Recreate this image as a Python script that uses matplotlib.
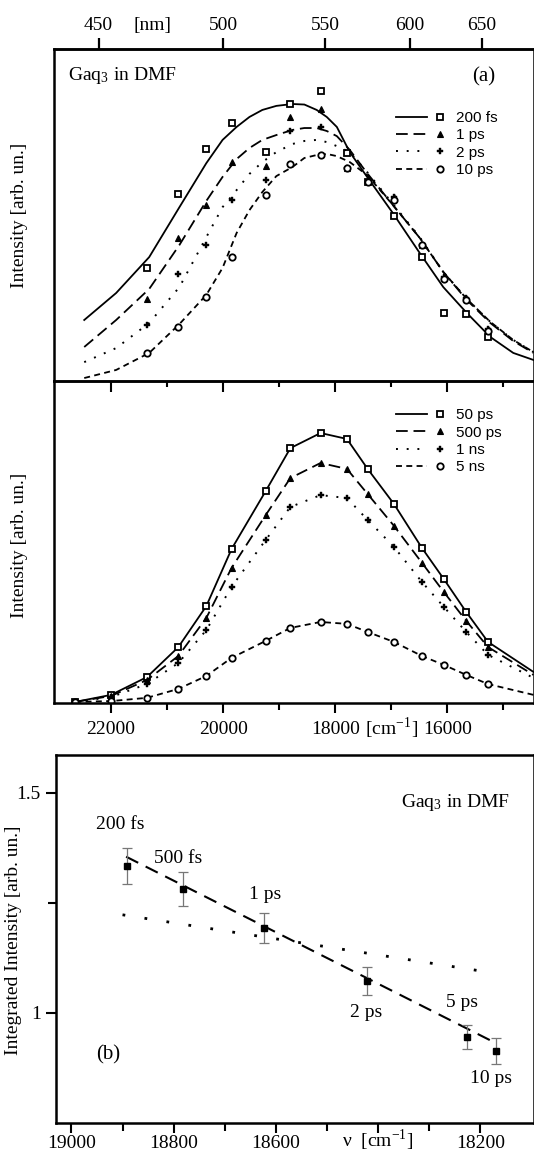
import numpy as np
import matplotlib
matplotlib.use('Agg')
import matplotlib.pyplot as plt
from matplotlib.legend_handler import HandlerBase
from matplotlib.lines import Line2D
from matplotlib.ticker import NullFormatter

plt.rcParams['font.family'] = 'Liberation Serif'
plt.rcParams['mathtext.fontset'] = 'stix'

# ---- data ----
# sample grid of the spectra [cm-1]
spec_nu = [22640, 22000, 21360, 20800, 20300, 19850, 19240, 18800,
           18260, 17790, 17420, 16950, 16450, 16060, 15660, 15270]

# (a) early times, measured points (on spec_nu[2:])
a_200fs = [0.419, 0.693, 0.859, 0.956, 0.848, 1.026, 1.074, 0.844, 0.737, 0.611, 0.459, 0.252, 0.248, 0.163]
a_1ps = [0.304, 0.530, 0.652, 0.811, 0.796, 0.978, 1.007, 0.789, 0.744, 0.681, 0.504, 0.385, 0.307, 0.193]
a_2ps = [0.207, 0.396, 0.504, 0.670, 0.744, 0.926, 0.941, 0.789, 0.737, 0.681, 0.504, 0.385, 0.307, 0.193]
a_10ps = [0.104, 0.200, 0.311, 0.459, 0.689, 0.804, 0.837, 0.789, 0.737, 0.670, 0.504, 0.378, 0.300, 0.185]

# (a) fitted curves
fit_nu = [22480, 21910, 21320, 20780, 20300, 20010, 19760, 19530, 19300, 19050, 18760, 18550,
          18330, 18150, 17970, 17740, 17430, 16970, 16490, 16070, 15650, 15230, 14820, 14460]
fit_200fs = [0.226, 0.326, 0.459, 0.644, 0.807, 0.893, 0.941, 0.978, 1.004, 1.019, 1.026, 1.024,
             1.004, 0.978, 0.941, 0.848, 0.756, 0.622, 0.474, 0.348, 0.252, 0.163, 0.104, 0.078]
fit_1ps = [0.126, 0.226, 0.341, 0.504, 0.667, 0.756, 0.822, 0.863, 0.893, 0.911, 0.930, 0.937,
           0.937, 0.926, 0.907, 0.856, 0.770, 0.652, 0.530, 0.404, 0.300, 0.215, 0.148, 0.104]
fit_2ps = [0.070, 0.122, 0.215, 0.348, 0.533, 0.644, 0.707, 0.767, 0.811, 0.848, 0.878, 0.889,
           0.893, 0.885, 0.870, 0.848, 0.774, 0.656, 0.533, 0.404, 0.304, 0.219, 0.152, 0.107]
fit_10ps = [0.011, 0.041, 0.104, 0.211, 0.319, 0.419, 0.548, 0.633, 0.700, 0.759, 0.793, 0.826,
            0.837, 0.841, 0.833, 0.811, 0.763, 0.652, 0.530, 0.404, 0.304, 0.219, 0.152, 0.107]

# later times (on spec_nu), plus where the curves leave the right edge
m_50ps = [0.004, 0.030, 0.096, 0.207, 0.359, 0.570, 0.785, 0.944, 1.000, 0.978, 0.867, 0.737, 0.574, 0.459, 0.337, 0.226]
m_500ps = [0.004, 0.026, 0.085, 0.174, 0.315, 0.500, 0.696, 0.833, 0.889, 0.867, 0.774, 0.656, 0.519, 0.411, 0.304, 0.207]
m_1ns = [0.004, 0.022, 0.070, 0.148, 0.270, 0.430, 0.604, 0.726, 0.770, 0.759, 0.678, 0.578, 0.448, 0.356, 0.263, 0.178]
m_5ns = [0.004, 0.007, 0.019, 0.052, 0.100, 0.167, 0.230, 0.278, 0.300, 0.293, 0.263, 0.226, 0.174, 0.141, 0.104, 0.070]
edge_nu = 14460
m_edge = [0.115, 0.104, 0.093, 0.030]

# (b) integrated intensity
b_labels = ['200 fs', '500 fs', '1 ps', '2 ps', '5 ps', '10 ps']
b_nu = [18891, 18781, 18623, 18422, 18227, 18169]
b_int = [1.334, 1.282, 1.193, 1.073, 0.945, 0.914]
b_err = [0.040, 0.039, 0.034, 0.032, 0.027, 0.029]
b_fit_nu = [18893, 18167]
b_fit_int = [1.355, 0.930]
b_dot_nu = [18900, 18175]
b_dot_int = [1.223, 1.091]

nm_ticks = [450, 500, 550, 600, 650]

# ---- styles ----
styles = [
  dict(linestyle='-', lw=1.3),
  dict(linestyle=(0, (6.5, 3.2)), lw=1.3),
  dict(linestyle=(0, (1.0, 4.5)), lw=1.4),
  dict(linestyle=(0, (3.3, 2.4)), lw=1.3),
]
marks = [
  dict(marker='s', ms=4.2, mfc='white', mec='k', mew=1.3),
  dict(marker='^', ms=4.0, mfc='k', mec='k', mew=0.8),
  dict(marker='P', ms=4.2, mfc='k', mec='k', mew=0.3),
  dict(marker='o', ms=4.6, mfc='white', mec='k', mew=1.3),
]

class LineThenMarker(HandlerBase):
  def create_artists(self, legend, orig, xdescent, ydescent, width, height, fontsize, trans):
    y = height / 2 - ydescent
    x0 = -xdescent
    line = Line2D([x0, x0 + 0.64 * width], [y, y])
    line.update_from(orig)
    line.set_marker('None')
    mark = Line2D([x0 + width - 2.5], [y])
    mark.update_from(orig)
    mark.set_linestyle('None')
    line.set_transform(trans)
    mark.set_transform(trans)
    return [line, mark]

def spec_legend(ax, names, top):
  handles = [Line2D([], [], color='k', **styles[i], **marks[i]) for i in range(4)]
  ax.legend(handles, names, loc='upper left', bbox_to_anchor=(0.712, top),
            frameon=False, borderpad=0, borderaxespad=0, handlelength=3.15,
            handletextpad=0.8, labelspacing=0.22,
            prop={'family': 'Liberation Sans', 'size': 11},
            handler_map={Line2D: LineThenMarker()})

fig = plt.figure(figsize=(5.34, 11.56), dpi=100)
xlim = (23020, 14450)
spine_w = 1.8

# ---- panel (a) ----
ax1 = fig.add_axes([0.1011, 0.6704, 0.8989, 0.2872])
ax2 = fig.add_axes([0.1011, 0.3919, 0.8989, 0.2785])
ax2.patch.set_visible(False)

nu_a = spec_nu[2:]
for i, (pts, fit) in enumerate(zip([a_200fs, a_1ps, a_2ps, a_10ps],
                                   [fit_200fs, fit_1ps, fit_2ps, fit_10ps])):
  ax1.plot(fit_nu, fit, color='k', **styles[i])
  ax1.plot(nu_a, pts, color='k', linestyle='none', **marks[i])
ax1.set_xlim(*xlim)
ax1.set_ylim(0, 332 / 270)
ax1.set_yticks([])
# top: wavelength ticks
sec = ax1.secondary_xaxis('top', functions=(lambda v: 1e7 / v, lambda l: 1e7 / l))
sec.set_xticks(nm_ticks)
sec.set_xticklabels([str(n) for n in nm_ticks], fontsize=14)
sec.tick_params(direction='out', length=8, width=1.6, pad=3)
sec.spines['top'].set_linewidth(spine_w)
# bottom of (a): ticks pointing down into the lower spectra panel
ax1.xaxis.set_ticks([22000, 20000, 18000, 16000])
ax1.xaxis.set_ticks([21000, 19000, 17000, 15000], minor=True)
ax1.tick_params(axis='x', which='both', direction='out', width=1.5, top=False,
                labeltop=False, labelbottom=False)
ax1.tick_params(axis='x', which='major', length=8)
ax1.tick_params(axis='x', which='minor', length=4)
ax1.text(21270, 1.072, '[nm]', transform=ax1.get_xaxis_transform(), ha='center', va='center', fontsize=14)
ax1.text(0.029, 0.919, 'Gaq$_{\\mathregular{3}}$ in DMF', transform=ax1.transAxes, ha='left', va='center', fontsize=14)
ax1.text(0.896, 0.916, '(a)', transform=ax1.transAxes, ha='center', va='center', fontsize=15)
spec_legend(ax1, ['200 fs', '1 ps', '2 ps', '10 ps'], 0.813)
for s in ax1.spines.values():
  s.set_linewidth(spine_w)

# ---- later-time spectra ----
for i, vals in enumerate([m_50ps, m_500ps, m_1ns, m_5ns]):
  ax2.plot(spec_nu + [edge_nu], vals + [m_edge[i]], color='k', **styles[i])
  ax2.plot(spec_nu, vals, color='k', linestyle='none', **marks[i])
ax2.set_xlim(*xlim)
ax2.set_ylim(0, 322 / 270)
ax2.set_yticks([])
ax2.set_xticks([22000, 20000, 18000, 16000])
ax2.set_xticks([21000, 19000, 17000, 15000], minor=True)
ax2.set_xticklabels(['22000', '20000', '18000', '16000'], fontsize=14)
ax2.tick_params(axis='x', which='major', direction='out', length=7, width=1.5, pad=6)
ax2.tick_params(axis='x', which='minor', direction='out', length=5, width=1.5)
ax2.text(17000, -0.078, '[cm$^{\\mathregular{-1}}$]', transform=ax2.get_xaxis_transform(),
         ha='center', va='center', fontsize=14)
spec_legend(ax2, ['50 ps', '500 ps', '1 ns', '5 ns'], 0.915)
for s in ax2.spines.values():
  s.set_linewidth(spine_w)

fig.text(0.037, 1 - 215 / 1156, 'Intensity [arb. un.]', rotation=90, ha='center', va='center', fontsize=14)
fig.text(0.037, 1 - 545 / 1156, 'Intensity [arb. un.]', rotation=90, ha='center', va='center', fontsize=14)

# ---- panel (b) ----
ax3 = fig.add_axes([0.105, 0.0285, 0.895, 0.3184])
ax3.plot(b_fit_nu, b_fit_int, color='k', lw=1.5, linestyle=(0, (6.5, 4.0)))
ax3.plot(b_dot_nu, b_dot_int, color='k', lw=2.0, linestyle=(0, (1.0, 7.0)))
ax3.errorbar(b_nu, b_int, yerr=b_err, fmt='s', ms=5, mfc='k', mec='k',
             ecolor='#777777', elinewidth=0.9, capsize=3.5, capthick=0.9)
label_pos = [(18904, 1.427), (18791, 1.352), (18621, 1.270),
             (18424, 1.000), (18235, 1.023), (18179, 0.852)]
for lab, (x, y) in zip(b_labels, label_pos):
  ax3.text(x, y, lab, ha='center', va='center', fontsize=14)
ax3.text(18928, 0.905, '(b)', ha='center', va='center', fontsize=15)
ax3.text(18249, 1.477, 'Gaq$_{\\mathregular{3}}$ in DMF', ha='center', va='center', fontsize=14)
ax3.set_xlim(19030, 18095)
ax3.set_ylim(0.75, 1.586)
ax3.set_xticks([19000, 18800, 18600, 18400, 18200])
ax3.set_xticks([18900, 18700, 18500, 18300], minor=True)
ax3.set_xticklabels(['19000', '18800', '18600', '', '18200'], fontsize=14)
ax3.text(18400, -0.046, '\u03bd  [cm$^{\\mathregular{-1}}$]', transform=ax3.get_xaxis_transform(),
         ha='center', va='center', fontsize=14)
ax3.set_yticks([1.0, 1.5])
ax3.set_yticks([1.25], minor=True)
ax3.set_yticklabels(['1', '1.5'], fontsize=14)
ax3.yaxis.set_minor_formatter(NullFormatter())
ax3.tick_params(which='major', direction='out', length=7, width=1.5)
ax3.tick_params(which='minor', direction='out', length=6, width=1.5)
ax3.tick_params(axis='x', pad=1.5)
ax3.tick_params(axis='y', pad=4)
for s in ax3.spines.values():
  s.set_linewidth(spine_w)
fig.text(0.026, 1 - 940 / 1156, 'Integrated Intensity [arb. un.]', rotation=90,
         ha='center', va='center', fontsize=14)

fig.savefig('out.png', dpi=100)
